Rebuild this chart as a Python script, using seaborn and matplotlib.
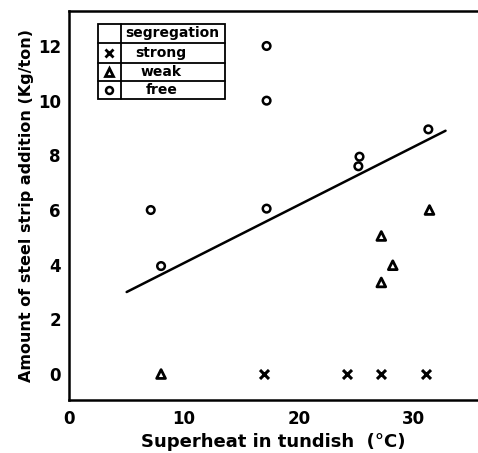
import matplotlib
matplotlib.use("Agg")
import matplotlib.pyplot as plt
import seaborn as sns
import pandas as pd
from matplotlib.patches import Rectangle
from matplotlib.lines import Line2D

# ---- data ----
free_x = [7.1, 8.0, 17.2, 17.2, 17.2, 25.2, 25.3, 31.3]
free_y = [6.0, 3.95, 12.0, 10.0, 6.05, 7.6, 7.95, 8.95]
weak_x = [8.0, 27.2, 28.2, 27.2, 31.4]
weak_y = [0.0, 5.05, 3.98, 3.35, 6.0]
strong_x = [17.0, 24.2, 27.2, 31.1]
strong_y = [0.0, 0.0, 0.0, 0.0]
fit_x = [5.0, 32.8]
fit_y = [3.0, 8.9]
x_ticks = [0, 10, 20, 30]
x_minor = [5, 15, 25]
y_ticks = [0, 2, 4, 6, 8, 10, 12]
legend_labels = ["strong", "weak", "free"]

sns.set_style("white")
plt.rcParams['font.family'] = ['DejaVu Sans']
plt.rcParams['text.color'] = 'black'
plt.rcParams['axes.labelcolor'] = 'black'

fig = plt.figure(figsize=(4.78, 4.53), dpi=100)
ax = fig.add_axes([69.3/478, 53/453, (478-69.3)/478, 389/453])

df_free = pd.DataFrame({"x": free_x, "y": free_y})
df_weak = pd.DataFrame({"x": weak_x, "y": weak_y})
df_strong = pd.DataFrame({"x": strong_x, "y": strong_y})
df_fit = pd.DataFrame({"x": fit_x, "y": fit_y})

sns.lineplot(data=df_fit, x="x", y="y", ax=ax, color="black", linewidth=1.8)
sns.scatterplot(data=df_free, x="x", y="y", ax=ax, marker="o", s=30,
                facecolor="none", edgecolor="black", linewidth=1.8, zorder=3)
sns.scatterplot(data=df_weak, x="x", y="y", ax=ax, marker="^", s=40,
                facecolor="none", edgecolor="black", linewidth=2.0, zorder=3)
sns.scatterplot(data=df_strong, x="x", y="y", ax=ax, marker="x", s=42,
                color="black", linewidth=2.2, zorder=3)

ax.set_xlim(0, 35.63)
ax.set_ylim(-0.95, 13.28)
ax.set_xticks(x_ticks)
ax.set_xticks(x_minor, minor=True)
ax.set_yticks(y_ticks)
ax.set_xticklabels([str(t) for t in x_ticks], fontsize=12, fontweight="bold")
ax.set_yticklabels([str(t) for t in y_ticks], fontsize=12, fontweight="bold")
ax.tick_params(axis="both", which="both", direction="in", length=4, width=1.2,
               colors="black", pad=7)
ax.tick_params(axis="y", pad=6)
for side in ["left", "bottom", "top"]:
    ax.spines[side].set_color("black")
    ax.spines[side].set_linewidth(1.8)
ax.spines["right"].set_visible(False)

ax.set_xlabel("Superheat in tundish  (°C)", fontsize=13, fontweight="bold", labelpad=4)
ax.set_ylabel("Amount of steel strip addition (Kg/ton)", fontsize=11.5,
              fontweight="bold", labelpad=3)

# ---- legend table ----
tr = ax.transAxes
x0, xd, x1 = 0.070, 0.126, 0.381
ys = [0.967, 0.918, 0.866, 0.819, 0.774]
ax.add_patch(Rectangle((x0, ys[-1]), x1 - x0, ys[0] - ys[-1], transform=tr,
                       fill=False, edgecolor="black", linewidth=1.3, zorder=4))
for yy in ys[1:-1]:
    ax.add_line(Line2D([x0, x1], [yy, yy], transform=tr, color="black", linewidth=1.3))
ax.add_line(Line2D([xd, xd], [ys[0], ys[-1]], transform=tr, color="black", linewidth=1.3))
ax.text(0.252, (ys[0] + ys[1]) / 2, "segregation", transform=tr, ha="center", va="center",
        fontsize=10, fontweight="bold")
mk = [dict(marker="x", markersize=5.5, markeredgewidth=2.0, color="black"),
      dict(marker="^", markersize=6, markeredgewidth=2.0, markerfacecolor="none", color="black"),
      dict(marker="o", markersize=5, markeredgewidth=1.8, markerfacecolor="none", color="black")]
for i, lab in enumerate(legend_labels):
    yc = (ys[i + 1] + ys[i + 2]) / 2
    ax.text(0.225, yc, lab, transform=tr, ha="center", va="center",
            fontsize=10, fontweight="bold")
    ax.plot([(x0 + xd) / 2], [yc], transform=tr, linestyle="none", **mk[i])

fig.savefig("out.png", dpi=100)
